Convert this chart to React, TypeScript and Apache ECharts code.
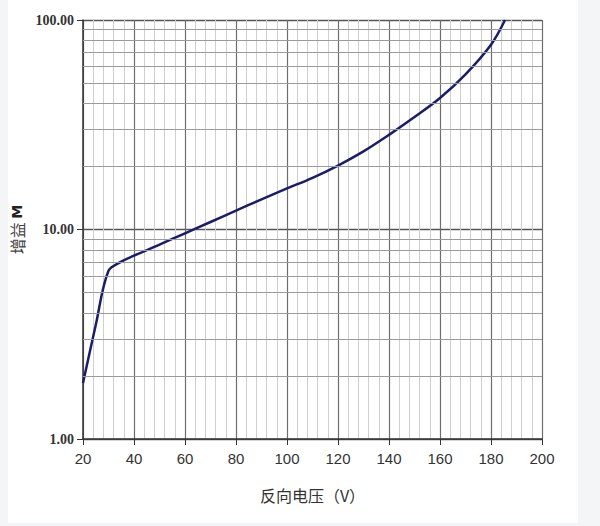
import React, { useEffect, useRef } from "react";
import * as echarts from "echarts";

const voltage = [20, 25, 30, 35, 40, 50, 60, 70, 80, 90, 100, 110, 120, 130, 140, 150, 160, 170, 180, 185.5];
const gain = [1.85, 3.5, 6.35, 7.02, 7.5, 8.47, 9.59, 10.86, 12.3, 13.93, 15.7, 17.65, 20.2, 23.6, 28.3, 34.4, 42.4, 55, 76.2, 100];
const yMinorValues = [2, 3, 4, 5, 6, 7, 8, 9, 20, 30, 40, 50, 60, 70, 80, 90];
const xTitle = "反向电压（V）";
const yTitleCn = "增益";
const yTitleLatin = "M";

export default function App() {
  const ref = useRef<HTMLDivElement>(null);
  useEffect(() => {
    if (!ref.current) return;
    const chart = echarts.init(ref.current, null, { renderer: "svg" });
    chart.setOption({
      animation: false,
      backgroundColor: "#f4f5f6",
      graphic: [
        { type: "rect", shape: { x: 8, y: 0, width: 570, height: 523 }, style: { fill: "#ffffff" }, z: -10, silent: true },
      ],
      grid: { left: 83, right: 58, top: 20, bottom: 87, containLabel: false },
      xAxis: {
        type: "value",
        min: 20,
        max: 200,
        interval: 20,
        z: 1,
        name: xTitle,
        nameLocation: "middle",
        nameGap: 48,
        nameTextStyle: { fontFamily: "Noto Sans CJK SC", fontSize: 16, color: "#333" },
        axisLine: { show: true, lineStyle: { color: "#333", width: 1.5 } },
        axisTick: { show: true, length: 6, lineStyle: { color: "#333" } },
        axisLabel: { fontFamily: "Liberation Sans", fontSize: 15, color: "#333", margin: 12 },
        splitLine: { show: true, lineStyle: { color: "#6e6e6e", width: 1.2 } },
        minorTick: { show: false, splitNumber: 5 },
        minorSplitLine: { show: true, lineStyle: { color: "#cfcfcf", width: 1 } },
      },
      yAxis: {
        type: "log",
        logBase: 10,
        min: 1,
        max: 100,
        z: 1,
        name: `{a|${yTitleCn}} {b|${yTitleLatin}}`,
        nameLocation: "middle",
        nameGap: 49,
        nameRotate: 90,
        nameTextStyle: {
          rich: {
            a: { fontFamily: "Noto Sans CJK SC", fontSize: 16, color: "#444" },
            b: { fontFamily: "DejaVu Sans", fontWeight: "bold", fontSize: 14, color: "#222" },
          },
        },
        axisLine: { show: true, lineStyle: { color: "#333", width: 1.5 } },
        axisTick: { show: true, length: 6, lineStyle: { color: "#333" } },
        axisLabel: {
          fontFamily: "Liberation Serif",
          fontWeight: "bold",
          fontSize: 14,
          color: "#333",
          margin: 9,
          formatter: (v: number) => v.toFixed(2),
        },
        splitLine: { show: true, lineStyle: { color: "#555", width: 1.3 } },
      },
      series: [
        {
          type: "line",
          z: 0,
          data: [],
          silent: true,
          markLine: {
            silent: true,
            symbol: ["none", "none"],
            label: { show: false },
            lineStyle: { type: "solid", color: "#9a9a9a", width: 1 },
            data: yMinorValues.map((v) => ({ yAxis: v })),
          },
        },
        {
          type: "line",
          z: 3,
          data: voltage.map((v, i) => [v, gain[i]]),
          showSymbol: false,
          smooth: 0.35,
          lineStyle: { color: "#1c1c6b", width: 2.5 },
        },
      ],
    });
    return () => chart.dispose();
  }, []);
  return <div ref={ref} style={{ position: "absolute", left: 0, top: 0, width: 600, height: 526 }} />;
}
